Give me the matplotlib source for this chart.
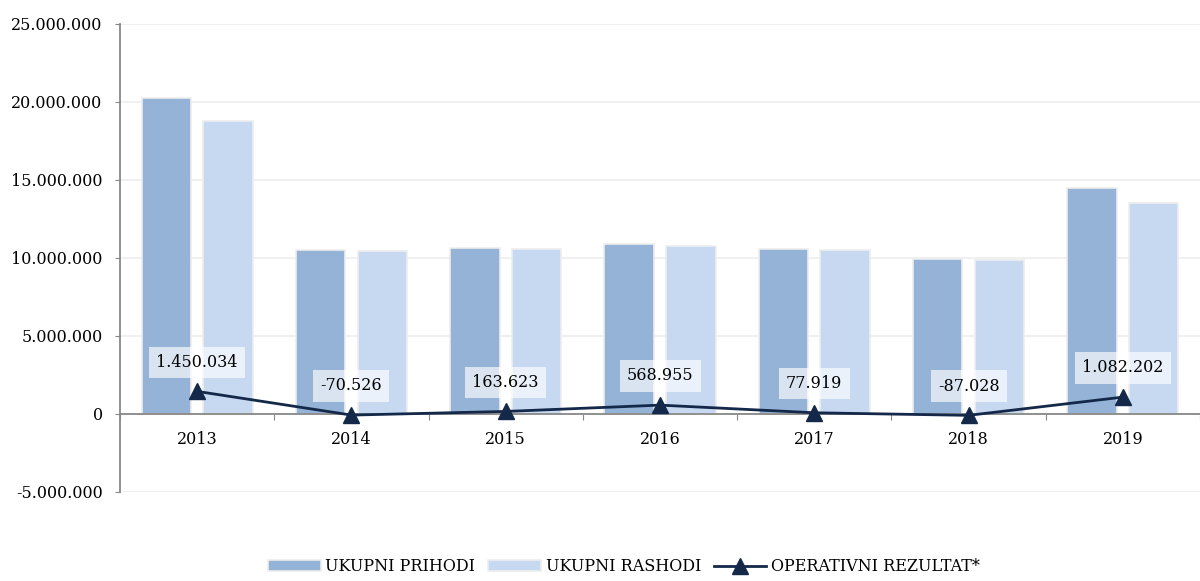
import matplotlib.pyplot as plt
import numpy as np
from matplotlib.ticker import FuncFormatter

godine = ['2013', '2014', '2015', '2016', '2017', '2018', '2019']
prihodi = [20260000, 10510000, 10640000, 10900000, 10580000, 9940000, 14490000]
rashodi = [18780000, 10450000, 10580000, 10770000, 10510000, 9900000, 13530000]
rezultat = [1450034, -70526, 163623, 568955, 77919, -87028, 1082202]

plt.rcParams['font.family'] = 'DejaVu Serif'
plt.rcParams['font.size'] = 11.5

fig = plt.figure(figsize=(12, 5.81), dpi=100)
ax = fig.add_axes([0.1, 0.1532, 0.9, 0.8055])

x = np.arange(len(godine))
w = 0.32
b1 = ax.bar(x - 0.2, prihodi, w, color='#95B3D7', edgecolor='#EDEDED', linewidth=1.2,
            label='UKUPNI PRIHODI', zorder=2)
b2 = ax.bar(x + 0.2, rashodi, w, color='#C6D9F1', edgecolor='#EDEDED', linewidth=1.2,
            label='UKUPNI RASHODI', zorder=2)
l1, = ax.plot(x, rezultat, color='#14294A', linewidth=2, marker='^', markersize=12,
              label='OPERATIVNI REZULTAT*', zorder=4)


def fmt(v):
    s = f'{abs(int(v)):,}'.replace(',', '.')
    return '-' + s if v < 0 else s


# oznake vrijednosti iznad trokuta
for xi, v in zip(x, rezultat):
    ax.annotate(fmt(v), (xi, v), xytext=(0, 21), textcoords='offset points',
                ha='center', va='center', fontsize=11.5, zorder=5,
                bbox=dict(boxstyle='square,pad=0.45', fc='white', ec='none', alpha=0.65))

ax.set_xlim(-0.5, len(godine) - 0.5)
ax.set_ylim(-5000000, 25000000)
ax.set_yticks(np.arange(-5000000, 25000001, 5000000))
ax.yaxis.set_major_formatter(FuncFormatter(lambda v, p: fmt(v)))
ax.grid(axis='y', color='#EEEEEE', linewidth=1.2, zorder=0)
ax.set_axisbelow(True)

for s in ['top', 'right']:
    ax.spines[s].set_visible(False)
ax.spines['left'].set_color('#888888')
ax.spines['left'].set_linewidth(1.3)
ax.spines['bottom'].set_position(('data', 0))
ax.spines['bottom'].set_color('#888888')
ax.spines['bottom'].set_linewidth(1.3)
ax.spines['bottom'].set_zorder(3)

ax.set_xticks(np.arange(-0.5, len(godine) - 0.4, 1))
ax.set_xticklabels([])
ax.tick_params(axis='x', which='major', length=4, color='#888888', direction='out')
ax.set_xticks(x, minor=True)
ax.set_xticklabels(godine, minor=True)
ax.tick_params(axis='x', which='minor', length=0, pad=12)
ax.tick_params(axis='y', length=3.5, color='#888888', pad=9)

fig.legend([b1, b2, l1], ['UKUPNI PRIHODI', 'UKUPNI RASHODI', 'OPERATIVNI REZULTAT*'],
           loc='lower center', bbox_to_anchor=(0.52, -0.015), ncol=3, frameon=False,
           handlelength=3.3, handletextpad=0.3, columnspacing=0.8)

fig.savefig('out.png', dpi=100)
